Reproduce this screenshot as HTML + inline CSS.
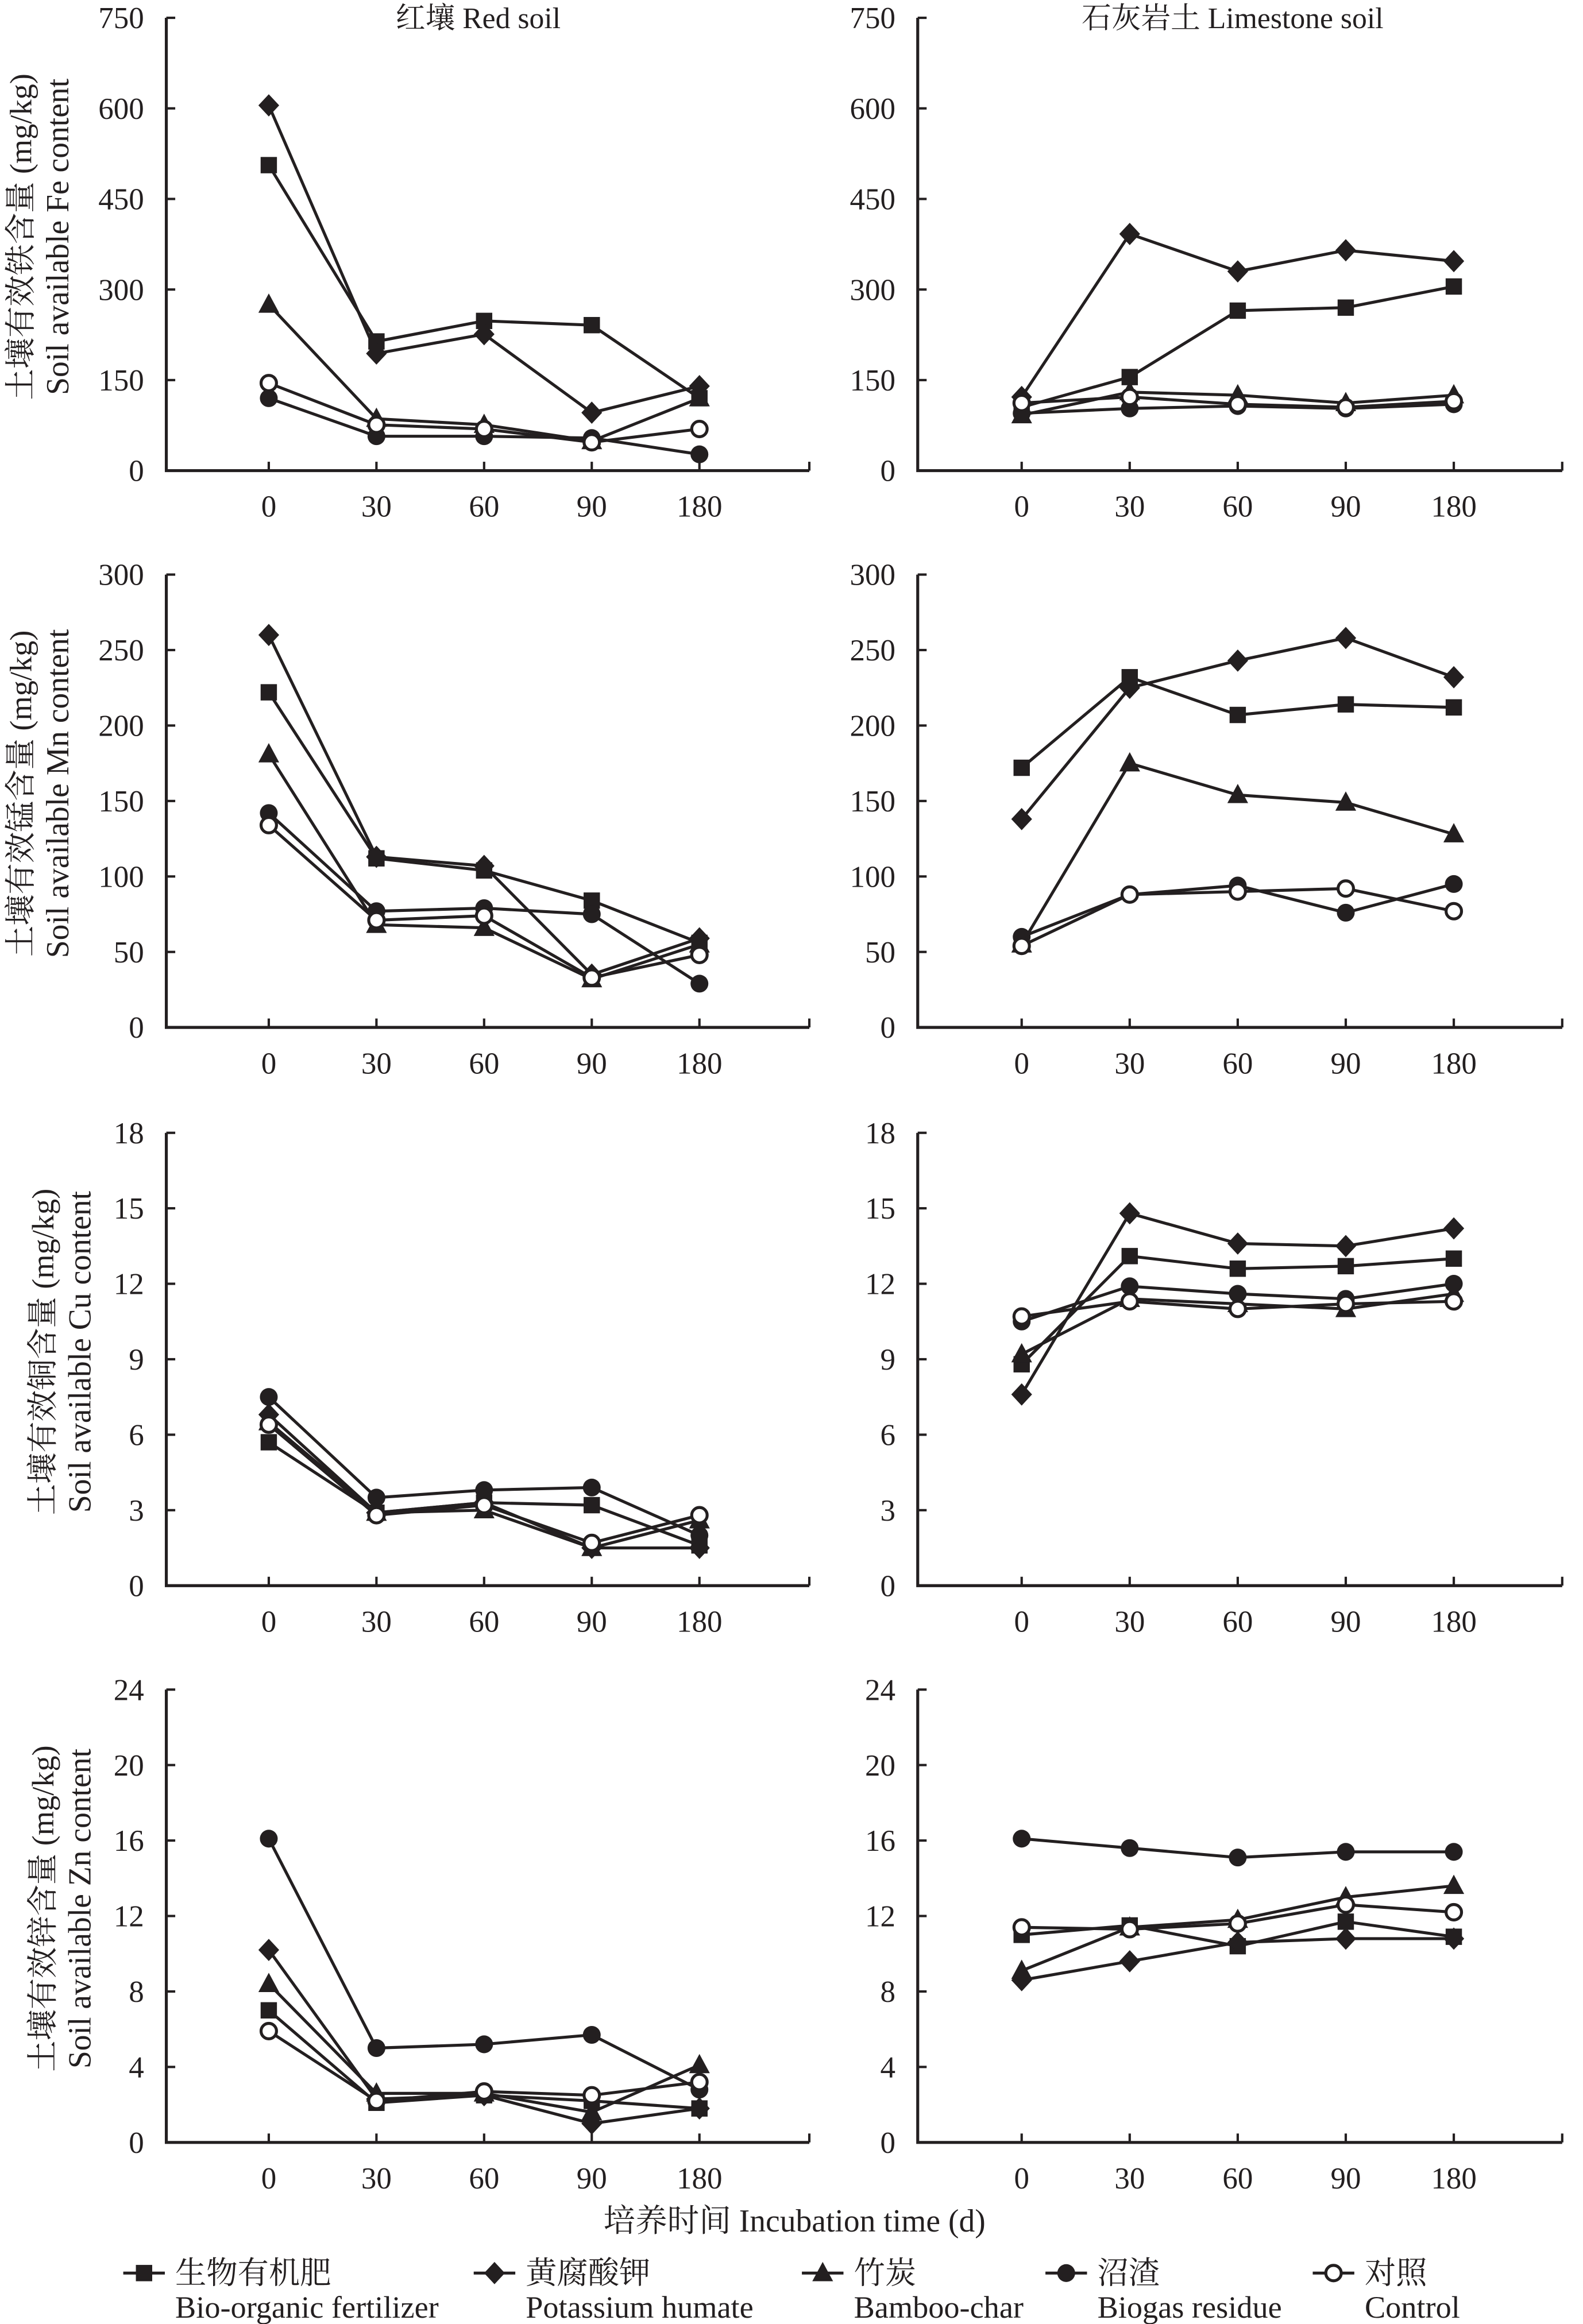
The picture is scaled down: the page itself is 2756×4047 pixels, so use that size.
<!DOCTYPE html>
<html><head><meta charset="utf-8">
<style>
html,body{margin:0;padding:0;background:#fff;}
svg{display:block;}
text{font-family:"Liberation Serif","Noto Serif CJK SC","Noto Sans CJK SC",serif;fill:#231f20;}
</style></head>
<body>
<svg id="chart" width="2756" height="4047" viewBox="0 0 1066 1565.3" preserveAspectRatio="none" xmlns="http://www.w3.org/2000/svg">
<text x="322" y="19" font-size="20" text-anchor="middle">红壤 Red soil</text>
<text x="830" y="19" font-size="20" text-anchor="middle">石灰岩土 Limestone soil</text>
<text x="535" y="1503" font-size="21.5" text-anchor="middle">培养时间 Incubation time (d)</text>
<g id="legend"></g>
<g id="plots"></g>
</svg>
<script>
const categories = ["0","30","60","90","180"];
const seriesNames = ["生物有机肥","黄腐酸钾","竹炭","沼渣","对照"];
const seriesEn = ["Bio-organic fertilizer","Potassium humate","Bamboo-char","Biogas residue","Control"];
const markers = ["square","diamond","triangle","circle","open"];

const feRed = [[506,214,248,241,120],[605,194,226,96,140],[275,86,76,49,120],[120,57,57,54,27],[145,76,69,47,69]];
const feLime = [[105,155,265,270,305],[122,392,330,365,347],[92,130,125,112,125],[95,103,107,103,110],[112,122,110,105,115]];
const mnRed = [[222,112,104,84,56],[260,113,107,35,59],[181,68,66,32,55],[142,77,79,75,29],[134,71,74,33,48]];
const mnLime = [[172,232,207,214,212],[138,225,243,258,232],[55,175,154,149,128],[60,88,94,76,95],[54,88,90,92,77]];
const cuRed = [[5.7,2.9,3.3,3.2,1.6],[6.8,2.9,3.3,1.5,1.5],[6.5,2.9,3.0,1.5,2.6],[7.5,3.5,3.8,3.9,2.0],[6.4,2.8,3.2,1.7,2.8]];
const cuLime = [[8.8,13.1,12.6,12.7,13.0],[7.6,14.8,13.6,13.5,14.2],[9.2,11.4,11.2,11.0,11.6],[10.5,11.9,11.6,11.4,12.0],[10.7,11.3,11.0,11.2,11.3]];
const znRed = [[7.0,2.1,2.5,2.2,1.8],[10.2,2.3,2.5,1.0,1.8],[8.4,2.6,2.6,1.6,4.1],[16.1,5.0,5.2,5.7,2.8],[5.9,2.2,2.7,2.5,3.2]];
const znLime = [[11.0,11.5,10.4,11.7,10.9],[8.6,9.6,10.6,10.8,10.8],[9.1,11.4,11.8,13.0,13.6],[16.1,15.6,15.1,15.4,15.4],[11.4,11.3,11.6,12.6,12.2]];
const feTicks = [0,150,300,450,600,750];
const mnTicks = [0,50,100,150,200,250,300];
const cuTicks = [0,3,6,9,12,15,18];
const znTicks = [0,4,8,12,16,20,24];

const NS="http://www.w3.org/2000/svg";
const root=document.getElementById('plots');
function mk(tag,attrs,parent){const e=document.createElementNS(NS,tag);for(const k in attrs)e.setAttribute(k,attrs[k]);(parent||root).appendChild(e);return e;}

function marker(g,type,x,y){
  let e;
  if(type==="square"){e=mk('rect',{x:x-5.5,y:y-5.5,width:11,height:11,fill:'#231f20'},g);}
  else if(type==="diamond"){e=mk('polygon',{points:`${x},${y-7.5} ${x+7},${y} ${x},${y+7.5} ${x-7},${y}`,fill:'#231f20'},g);}
  else if(type==="triangle"){e=mk('polygon',{points:`${x},${y-7.5} ${x+7},${y+5.5} ${x-7},${y+5.5}`,fill:'#231f20'},g);}
  else if(type==="circle"){e=mk('circle',{cx:x,cy:y,r:6,fill:'#231f20'},g);}
  else {e=mk('circle',{cx:x,cy:y,r:5.2,fill:'#fff',stroke:'#231f20','stroke-width':2},g);}
  return e;
}

const panels=[
 {top:12,ticks:feTicks,sets:[feRed,feLime],el:"铁",en:"Fe",key:"fe",tx:[21,46]},
 {top:387,ticks:mnTicks,sets:[mnRed,mnLime],el:"锰",en:"Mn",key:"mn",tx:[21,46]},
 {top:763,ticks:cuTicks,sets:[cuRed,cuLime],el:"铜",en:"Cu",key:"cu",tx:[36,61]},
 {top:1138,ticks:znTicks,sets:[znRed,znLime],el:"锌",en:"Zn",key:"zn",tx:[36,61]}
];
const H=305;
const cols=[{x0:112,first:181,step:72.5,end:545,name:"red"},{x0:618,first:688,step:72.75,end:1052,name:"lime"}];

panels.forEach(p=>{
  const max=p.ticks[p.ticks.length-1];
  const bottom=p.top+H;
  const yS=v=>bottom-v/max*H;
  cols.forEach((c,ci)=>{
    const g=mk('g',{});
    
    
    const xS=i=>c.first+i*c.step;
    const ax=mk('path',{d:`M${c.x0},${p.top} V${bottom} H${c.end}`,fill:'none',stroke:'#231f20','stroke-width':2},g);
    
    
    p.ticks.forEach(t=>{
      mk('line',{x1:c.x0,x2:c.x0+6,y1:yS(t),y2:yS(t),stroke:'#231f20','stroke-width':1.6},g);
      const tl=mk('text',{x:c.x0-15,y:yS(t)+7,'font-size':20.5,'text-anchor':'end'},g);
      tl.textContent=t;
      
      
    });
    categories.forEach((cat,i)=>{
      mk('line',{x1:xS(i),x2:xS(i),y1:bottom,y2:bottom-6,stroke:'#231f20','stroke-width':1.6},g);
      const tl=mk('text',{x:xS(i),y:bottom+31,'font-size':20.5,'text-anchor':'middle'},g);
      tl.textContent=cat;
      
      
    });
    mk('line',{x1:c.end,x2:c.end,y1:bottom,y2:bottom-6,stroke:'#231f20','stroke-width':1.6},g);
    p.sets[ci].forEach((vals,si)=>{
      const pts=vals.map((v,i)=>xS(i)+','+yS(v)).join(' ');
      const ln=mk('polyline',{points:pts,fill:'none',stroke:'#231f20','stroke-width':2},g);
      
      
    });
    p.sets[ci].forEach((vals,si)=>{
      vals.forEach((v,i)=>{
        const m=marker(g,markers[si],xS(i),yS(v));
        
        
      });
    });
    if(ci===0){
      const cy=p.top+H/2-5;
      const t1=mk('text',{x:0,y:0,'font-size':21,'text-anchor':'middle',transform:`translate(${p.tx[0]},${cy}) rotate(-90)`},g);
      t1.textContent="土壤有效"+p.el+"含量 (mg/kg)";
      
      
      const t2=mk('text',{x:0,y:0,'font-size':21.5,'text-anchor':'middle',transform:`translate(${p.tx[1]},${cy}) rotate(-90)`},g);
      t2.textContent="Soil available "+p.en+" content";
      
      
    }
  });
});

const legend=document.getElementById('legend');
const legX=[97,333,554,718,898];
seriesNames.forEach((n,i)=>{
  const g=mk('g',{},legend);
  
  
  mk('line',{x1:legX[i]-14,x2:legX[i]+14,y1:1531,y2:1531,stroke:'#231f20','stroke-width':2},g);
  marker(g,markers[i],legX[i],1531);
  const t=mk('text',{x:legX[i]+21,y:1538,'font-size':21},g);
  t.textContent=n;
  const t2=mk('text',{x:legX[i]+21,y:1561,'font-size':21},g);
  t2.textContent=seriesEn[i];
});
</script>
</body></html>
